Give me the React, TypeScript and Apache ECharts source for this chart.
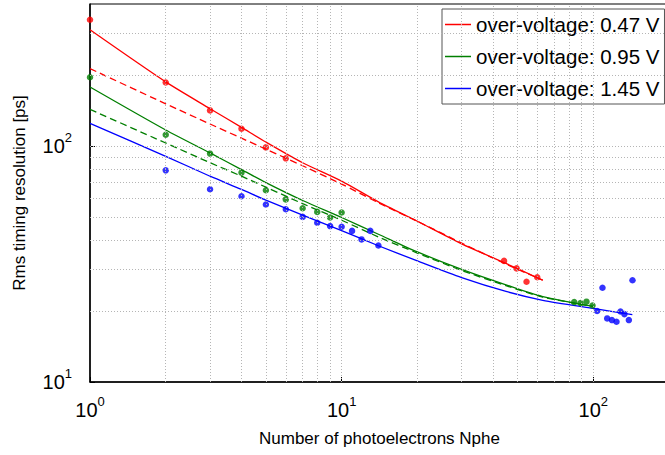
import React, { useEffect, useRef } from "react";
import * as echarts from "echarts";

// Measured points
const redX = [1, 2, 3, 4, 5, 6, 44.2, 49.6, 54.3, 59.9];
const redY = [343, 186, 141.6, 118.4, 98.7, 88.7, 32.6, 30.3, 26.6, 27.8];
const greenX = [1, 2, 3, 4, 5, 6, 7, 8, 9, 10, 84, 89, 94, 99.3];
const greenY = [195.7, 111.7, 92.9, 77.2, 65.0, 59.4, 54.5, 52.6, 49.8, 52.3, 21.8, 21.6, 21.9, 21.1];
const blueX = [2, 3, 4, 5, 6, 7, 8, 9, 10, 11, 12, 13, 14, 103.6, 108.8, 113.6, 118.6, 123.7, 128.3, 133, 138.5, 143.2];
const blueY = [78.9, 65.6, 61.3, 56.5, 54.0, 50.1, 47.3, 45.8, 45.5, 43.7, 40.2, 43.7, 37.9, 20.0, 25.1, 18.6, 18.3, 18.0, 19.9, 19.4, 18.3, 27.0];

// Fit curves (solid and dashed)
const redFitX = [1, 2, 3, 4, 5, 7, 10, 14, 20, 30, 45, 63];
const redFitSolid = [311, 187, 144, 120, 104, 85, 71, 58, 48, 38.5, 31.8, 27];
const redFitDashed = [213, 151, 124, 108, 97, 82.5, 69, 57.5, 48, 38.8, 31.6, 27];
const greenFitX = [1, 2, 3, 4, 5, 7, 10, 14, 20, 30, 45, 63, 100];
const greenFitSolid = [178, 117, 93.5, 79.5, 70, 58.8, 49.8, 42.3, 35.6, 30, 25.8, 23, 20.9];
const greenFitDashed = [143, 103, 85, 74.5, 67, 57, 48.5, 41.2, 35.2, 29.7, 25.6, 22.9, 20.9];
const blueFitX = [1, 2, 3, 4, 5, 7, 10, 14, 20, 30, 45, 63, 100, 143];
const blueFitSolid = [124.7, 90.5, 74.5, 65.5, 59, 51, 43.8, 37.8, 32.6, 27.7, 24.2, 22.2, 20.5, 19.3];

const legendNames = ["over-voltage: 0.47 V", "over-voltage: 0.95 V", "over-voltage: 1.45 V"];
const xGridValues = [2, 3, 4, 5, 6, 7, 8, 9, 10, 20, 30, 40, 50, 60, 70, 80, 90, 100];
const yGridValues = [20, 30, 40, 50, 60, 70, 80, 90, 100, 200, 300];

const RED = "#ff0000";
const GREEN = "#007f00";
const BLUE = "#0000ff";
const FONT = "Liberation Sans, Arial, Helvetica, sans-serif";

const pairs = (xs: number[], ys: number[]) => xs.map((x, i) => [x, ys[i]]);

const powLabel = (v: number) => {
  const e = Math.log10(v);
  const r = Math.round(e);
  if (Math.abs(e - r) > 1e-6) return "";
  return `{b|10}{s|${r}}`;
};

const labelRich = {
  b: { fontSize: 20, lineHeight: 30, verticalAlign: "middle", color: "#000", fontFamily: FONT },
  s: { fontSize: 13, lineHeight: 14, verticalAlign: "top", color: "#000", fontFamily: FONT },
};

function scatter(name: string, xs: number[], ys: number[], color: string) {
  return {
    name: name + " pts",
    type: "scatter",
    data: pairs(xs, ys),
    symbolSize: 6.5,
    itemStyle: { color },
    z: 4,
    silent: true,
  };
}

function fitLine(name: string, xs: number[], ys: number[], color: string, dashed: boolean) {
  return {
    name,
    type: "line",
    data: pairs(xs, ys),
    symbol: "none",
    smooth: 0.25,
    lineStyle: { color, width: 1.3, type: dashed ? [7, 4] : "solid" },
    itemStyle: { color },
    z: 3,
    silent: true,
  };
}

export default function App() {
  const ref = useRef<HTMLDivElement>(null);
  useEffect(() => {
    const chart = echarts.init(ref.current!, null, { renderer: "svg" });
    const option: any = {
      animation: false,
      backgroundColor: "#fff",
      textStyle: { fontFamily: FONT },
      grid: {
        left: 90,
        top: 4,
        width: 579,
        height: 378,
        show: true,
        borderColor: "#000",
        borderWidth: 1,
        backgroundColor: "transparent",
      },
      legend: {
        data: legendNames.map((n) => ({ name: n, icon: "rect" })),
        orient: "vertical",
        left: 442,
        top: 9,
        itemWidth: 26,
        itemHeight: 1.5,
        itemGap: 11,
        padding: [5, 5, 5, 3],
        borderColor: "#555",
        borderWidth: 1,
        backgroundColor: "#fff",
        selectedMode: false,
        textStyle: { fontSize: 20.5, color: "#000", lineHeight: 20, fontFamily: FONT },
      },
      xAxis: {
        type: "log",
        logBase: 10,
        min: 1,
        max: 200,
        name: "Number of photoelectrons Nphe",
        nameLocation: "middle",
        nameGap: 48,
        nameTextStyle: { fontSize: 17, color: "#000", fontFamily: FONT },
        axisLine: { show: true, lineStyle: { color: "#000", width: 1.5 } },
        axisTick: { show: true, inside: true, length: 5, lineStyle: { color: "#000" } },
        axisLabel: { formatter: powLabel, rich: labelRich, margin: 13, showMaxLabel: false },
        splitLine: { show: false },
      },
      yAxis: {
        type: "log",
        logBase: 10,
        min: 10,
        max: 400,
        name: "Rms timing resolution [ps]",
        nameLocation: "middle",
        nameGap: 62,
        nameTextStyle: { fontSize: 17, color: "#000", fontFamily: FONT },
        axisLine: { show: true, lineStyle: { color: "#000", width: 1.5 } },
        axisTick: { show: true, inside: true, length: 5, lineStyle: { color: "#000" } },
        axisLabel: { formatter: powLabel, rich: labelRich, margin: 18, showMaxLabel: false },
        splitLine: { show: false },
      },
      series: [
        {
          name: "grid",
          type: "line",
          data: [],
          z: 1,
          silent: true,
          markLine: {
            silent: true,
            symbol: ["none", "none"],
            label: { show: false },
            emphasis: { disabled: true },
            lineStyle: { color: "#b5b5b5", width: 1, type: [1, 2] },
            data: [
              ...xGridValues.map((v) => ({ xAxis: v })),
              ...yGridValues.map((v) => ({ yAxis: v })),
            ],
          },
        },
        scatter("r", redX, redY, RED),
        fitLine(legendNames[0], redFitX, redFitSolid, RED, false),
        fitLine("red dashed", redFitX, redFitDashed, RED, true),
        scatter("g", greenX, greenY, GREEN),
        fitLine(legendNames[1], greenFitX, greenFitSolid, GREEN, false),
        fitLine("green dashed", greenFitX, greenFitDashed, GREEN, true),
        scatter("b", blueX, blueY, BLUE),
        fitLine(legendNames[2], blueFitX, blueFitSolid, BLUE, false),
      ],
    };
    chart.setOption(option);
    return () => chart.dispose();
  }, []);
  return (
    <div
      style={{
        position: "fixed",
        left: 0,
        top: 0,
        width: 665,
        height: 455,
        overflow: "hidden",
        background: "#fff",
      }}
    >
      <div ref={ref} style={{ width: 680, height: 455 }} />
    </div>
  );
}
